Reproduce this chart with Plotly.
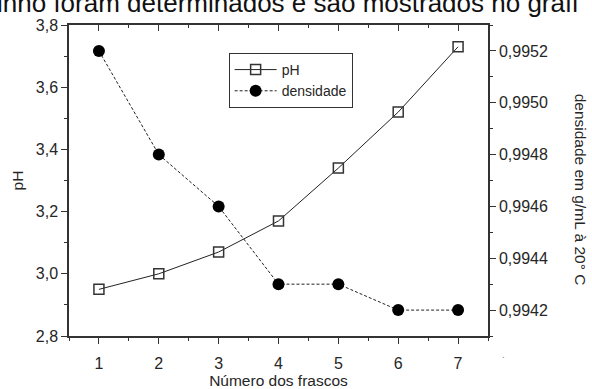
import plotly.graph_objects as go

frascos = [1, 2, 3, 4, 5, 6, 7]
ph = [2.95, 3.00, 3.07, 3.17, 3.34, 3.52, 3.73]
densidade = [0.9952, 0.9948, 0.9946, 0.9943, 0.9943, 0.9942, 0.9942]

x_ticks = [1, 2, 3, 4, 5, 6, 7]
ph_ticks = [2.8, 3.0, 3.2, 3.4, 3.6, 3.8]
dens_ticks = [0.9942, 0.9944, 0.9946, 0.9948, 0.9950, 0.9952]

AX = "#333333"
TXT = "#262626"
FONT = "Liberation Sans, Arial, sans-serif"

fig = go.Figure()
fig.add_trace(go.Scatter(
    x=frascos, y=ph, name="pH", mode="lines+markers",
    line=dict(color="#222222", width=1),
    marker=dict(symbol="square-open", size=10, color="#333333", line=dict(width=1.5)),
))
fig.add_trace(go.Scatter(
    x=frascos, y=densidade, name="densidade", mode="lines+markers", yaxis="y2",
    line=dict(color="#222222", width=1, dash="3px,2px"),
    marker=dict(symbol="circle", size=12, color="#000000"),
))
fig.add_trace(go.Scatter(x=[], y=[], xaxis="x2", showlegend=False, hoverinfo="skip"))

axcommon = dict(showline=True, linecolor=AX, linewidth=1.5, showgrid=False, zeroline=False,
                automargin=False,
                tickcolor=AX, tickwidth=1.2, tickfont=dict(family=FONT, size=16, color=TXT))

fig.update_layout(
    width=592, height=389,
    margin=dict(l=69, r=104, t=25, b=53),
    paper_bgcolor="white", plot_bgcolor="white",
    separators=",.",
    font=dict(family=FONT, color=TXT),
    showlegend=True,
    legend=dict(x=0.381, y=0.91, xanchor="left", yanchor="top",
                bgcolor="white", bordercolor=AX, borderwidth=1,
                font=dict(family=FONT, size=14, color=TXT),
                tracegroupgap=0, itemwidth=42),
    xaxis=dict(range=[0.5, 7.5], tickmode="array", tickvals=x_ticks, ticks="outside", ticklen=6,
               ticklabelstandoff=6,
               minor=dict(dtick=0.5, tick0=0.5, ticks="outside", ticklen=3, tickcolor=AX),
               title=dict(text="Número dos frascos", font=dict(family=FONT, size=15.5, color=TXT), standoff=4),
               **axcommon),
    xaxis2=dict(range=[0.5, 7.5], overlaying="x", side="top", anchor="y", tickmode="array",
                tickvals=x_ticks, ticks="inside", ticklen=6, showticklabels=False,
                minor=dict(dtick=0.5, tick0=0.5, ticks="inside", ticklen=3, tickcolor=AX),
                **axcommon),
    yaxis=dict(range=[2.8, 3.8], tickmode="array", tickvals=ph_ticks, tickformat=".1f",
               ticks="outside", ticklen=6,
               minor=dict(dtick=0.1, tick0=2.8, ticks="outside", ticklen=3, tickcolor=AX),
               title=dict(text="pH", font=dict(family=FONT, size=15.5, color=TXT), standoff=8),
               **axcommon),
    yaxis2=dict(range=[0.9941, 0.9953], overlaying="y", side="right", anchor="x", tickmode="array",
                tickvals=dens_ticks, tickformat=".4f", ticks="outside", ticklen=6,
                minor=dict(dtick=0.0001, tick0=0.9941, ticks="outside", ticklen=3, tickcolor=AX),
                **axcommon),
)

fig.add_annotation(text="densidade em g/mL à 20° C", textangle=90, xref="paper", yref="paper",
                   x=1.22, y=0.47, xanchor="center", yanchor="middle", showarrow=False,
                   font=dict(family=FONT, size=15.5, color=TXT))
fig.add_annotation(text="inho foram determinados e são mostrados no gráfi", xref="paper", yref="paper",
                   x=-0.177, y=1.016, xanchor="left", yanchor="bottom", showarrow=False,
                   font=dict(family=FONT, size=26, color="#111111"))
fig.add_annotation(text=".", xref="paper", yref="paper", x=1.045, y=-0.085, showarrow=False,
                   font=dict(family=FONT, size=10, color="#888888"))

fig.write_html("out.html", config={"displayModeBar": False},
               post_script="document.body.style.margin='0';")
